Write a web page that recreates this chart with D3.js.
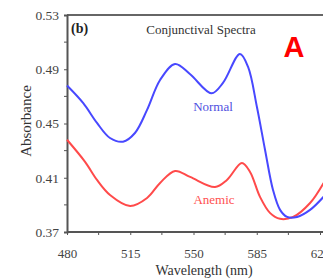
<!DOCTYPE html>
<html>
<head>
<meta charset="utf-8">
<script src="https://cdn.jsdelivr.net/npm/d3@7"></script>
<style>
  body { margin: 0; background: #fff; }
</style>
</head>
<body>
<div id="chart"></div>
<script>
// wavelength (nm) and absorbance
var normalWl  = [480, 489, 496.6, 503.8, 511, 517.6, 524.3, 531.5, 539.8, 548, 560, 566.3, 575.7, 580.2, 585.1, 589.6, 594, 597.9, 601.8, 607.3, 614.5, 622];
var normalAbs = [0.478, 0.465, 0.4504, 0.4393, 0.4366, 0.443, 0.46, 0.4821, 0.4939, 0.4865, 0.4723, 0.4799, 0.5013, 0.4917, 0.4622, 0.4305, 0.401, 0.3863, 0.3811, 0.3811, 0.3863, 0.396];
var anemicWl  = [480, 490, 496.6, 503.8, 514.9, 524.3, 531.5, 539.8, 548.1, 561.9, 568.5, 576.8, 581.3, 586.8, 592.3, 597.9, 605.1, 614.5, 622];
var anemicAbs = [0.438, 0.4217, 0.4084, 0.3973, 0.3892, 0.3951, 0.4062, 0.415, 0.4106, 0.4032, 0.4084, 0.4209, 0.4143, 0.3959, 0.3841, 0.3797, 0.3811, 0.3914, 0.4062];
var xTicks = [480, 515, 550, 585, 620];
var yTicks = [0.37, 0.41, 0.45, 0.49, 0.53];
var xMinor = [497.5, 532.5, 567.5, 602.5];
var yMinor = [0.39, 0.43, 0.47, 0.51];

var serif = "'Liberation Serif', 'Times New Roman', 'DejaVu Serif', serif";
var width = 323, height = 279;
var margin = { top: 15, left: 67, bottom: 47 };

var svg = d3.select("#chart")
  .append("svg")
    .attr("width", width)
    .attr("height", height)
    .style("font-family", serif);

var x = d3.scaleLinear()
  .domain([480, 620])
  .range([margin.left, 320]);

var y = d3.scaleLinear()
  .domain([0.37, 0.53])
  .range([height - margin.bottom, margin.top]);

// top border
svg.append("line")
  .attr("x1", margin.left).attr("x2", width)
  .attr("y1", y(0.53)).attr("y2", y(0.53))
  .attr("stroke", "#666").attr("stroke-width", 2);

// x axis
var xAxis = svg.append("g")
  .attr("transform", "translate(0," + y(0.37) + ")")
  .call(d3.axisBottom(x).tickValues(xTicks).tickSize(3).tickFormat(d3.format("d")));
xAxis.attr("font-family", null).attr("font-size", 13);
xAxis.select(".domain").attr("stroke", "#555").attr("stroke-width", 2)
  .attr("d", "M" + margin.left + ",0H" + width);
xAxis.selectAll(".tick line").attr("stroke", "#555");
xAxis.selectAll(".tick text")
  .attr("fill", "#444").attr("y", 26).attr("dy", null);
svg.append("g").selectAll("line").data(xMinor).enter().append("line")
  .attr("x1", d => x(d)).attr("x2", d => x(d))
  .attr("y1", y(0.37)).attr("y2", y(0.37) + 3)
  .attr("stroke", "#555");

// y axis
var yAxis = svg.append("g")
  .attr("transform", "translate(" + margin.left + ",0)")
  .call(d3.axisLeft(y).tickValues(yTicks).tickSize(3).tickFormat(d3.format(".2f")));
yAxis.attr("font-family", null).attr("font-size", 13.5);
yAxis.select(".domain").attr("stroke", "#555").attr("stroke-width", 2);
yAxis.selectAll(".tick line").attr("stroke", "#555");
yAxis.selectAll(".tick text")
  .attr("fill", "#444").attr("x", -8);
svg.append("g").selectAll("line").data(yMinor).enter().append("line")
  .attr("x1", margin.left - 3).attr("x2", margin.left)
  .attr("y1", d => y(d)).attr("y2", d => y(d))
  .attr("stroke", "#555");

// curves
var line = d3.line()
  .x(d => x(d[0]))
  .y(d => y(d[1]))
  .curve(d3.curveCatmullRom);

svg.append("path")
  .datum(d3.zip(anemicWl, anemicAbs))
  .attr("d", line)
  .attr("fill", "none")
  .attr("stroke", "#ff4a4a")
  .attr("stroke-width", 2);

svg.append("path")
  .datum(d3.zip(normalWl, normalAbs))
  .attr("d", line)
  .attr("fill", "none")
  .attr("stroke", "#4848ff")
  .attr("stroke-width", 2);

// labels
svg.append("text")
  .attr("x", 71).attr("y", 33)
  .attr("font-size", 14).attr("font-weight", "bold")
  .attr("fill", "#222")
  .text("(b)");

svg.append("text")
  .attr("x", 201).attr("y", 34)
  .attr("text-anchor", "middle")
  .attr("font-size", 13).attr("fill", "#333")
  .text("Conjunctival Spectra");

svg.append("text")
  .attr("x", 294).attr("y", 57)
  .attr("text-anchor", "middle")
  .style("font-family", "'Liberation Sans', Arial, sans-serif")
  .attr("font-size", 29).attr("font-weight", "bold")
  .attr("fill", "#ff0000")
  .text("A");

svg.append("text")
  .attr("x", 213).attr("y", 111)
  .attr("text-anchor", "middle")
  .attr("font-size", 13).attr("fill", "#5050e0")
  .text("Normal");

svg.append("text")
  .attr("x", 214).attr("y", 204)
  .attr("text-anchor", "middle")
  .attr("font-size", 13).attr("fill", "#ff5050")
  .text("Anemic");

svg.append("text")
  .attr("x", 204).attr("y", 275)
  .attr("text-anchor", "middle")
  .attr("font-size", 14).attr("fill", "#333")
  .text("Wavelength (nm)");

svg.append("text")
  .attr("transform", "translate(31,121) rotate(-90)")
  .attr("text-anchor", "middle")
  .attr("font-size", 15).attr("fill", "#333")
  .text("Absorbance");
</script>
</body>
</html>
